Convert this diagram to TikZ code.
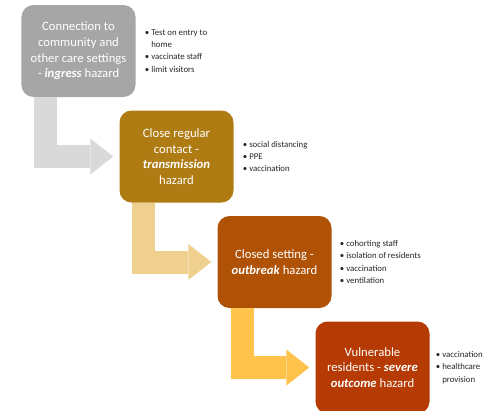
\documentclass[tikz,border=0pt]{standalone}
\usepackage{fontspec}
\setmainfont{Carlito}
\usetikzlibrary{positioning, arrows.meta}

\definecolor{ingressgray}{HTML}{A6A6A6}
\definecolor{ingresslight}{HTML}{D9D9D9}
\definecolor{transgold}{HTML}{AF7B13}
\definecolor{translight}{HTML}{F0D08E}
\definecolor{outbreakrust}{HTML}{AF5206}
\definecolor{outbreaklight}{HTML}{FFC24A}
\definecolor{severered}{HTML}{B53A03}

\begin{document}
\begin{tikzpicture}[x=1pt, y=1pt, node distance=105.5pt and 98pt,
    hazard/.style={on grid, rectangle, rounded corners=12pt, minimum width=114pt,
        minimum height=92pt, text=white, align=center,
        font=\fontsize{12.7}{15.6}\selectfont},
    measures/.style={align=left, inner sep=0pt, text=black!85,
        font=\fontsize{8.8}{12.3}\selectfont},
    flow/.style={line width=23pt, shorten >=6pt,
        -{Triangle[length=23pt, width=36pt, line width=0pt]}}]
   \useasboundingbox (-78.5,51) rectangle (419.5,-359);

   % Hazard boxes, stepping down to the right
   \node[hazard, fill=ingressgray] (ingress)
      {Connection to\\community and\\other care settings\\- \textbf{\textit{ingress}} hazard};
   \node[hazard, fill=transgold, below right=of ingress] (transmission)
      {Close regular\\contact -\\\textbf{\textit{transmission}}\\hazard};
   \node[hazard, fill=outbreakrust, below right=of transmission] (outbreak)
      {Closed setting -\\\textbf{\textit{outbreak}} hazard};
   \node[hazard, fill=severered, below right=of outbreak] (severe)
      {Vulnerable\\residents - \textbf{\textit{severe}}\\\textbf{\textit{outcome}} hazard};

   % Measures beside each box
   \node[measures, right=9pt of ingress] (ingress-m)
      {\textbullet\ Test on entry to\\\phantom{\textbullet\ }home\\\textbullet\ vaccinate staff\\\textbullet\ limit visitors};
   \node[measures, right=9pt of transmission] (transmission-m)
      {\textbullet\ social distancing\\\textbullet\ PPE\\\textbullet\ vaccination};
   \node[measures, right=8pt of outbreak] (outbreak-m)
      {\textbullet\ cohorting staff\\\textbullet\ isolation of residents\\\textbullet\ vaccination\\\textbullet\ ventilation};
   \node[measures, right=6pt of severe] (severe-m)
      {\textbullet\ vaccination\\\textbullet\ healthcare\\\phantom{\textbullet\ }provision};

   % Bent arrows between the boxes
   \draw[flow, draw=ingresslight]
      ([xshift=24pt]ingress.south west) |- (transmission.west);
   \draw[flow, draw=translight]
      ([xshift=24pt]transmission.south west) |- (outbreak.west);
   \draw[flow, draw=outbreaklight]
      ([xshift=25pt]outbreak.south west) |- (severe.west);
\end{tikzpicture}
\end{document}
